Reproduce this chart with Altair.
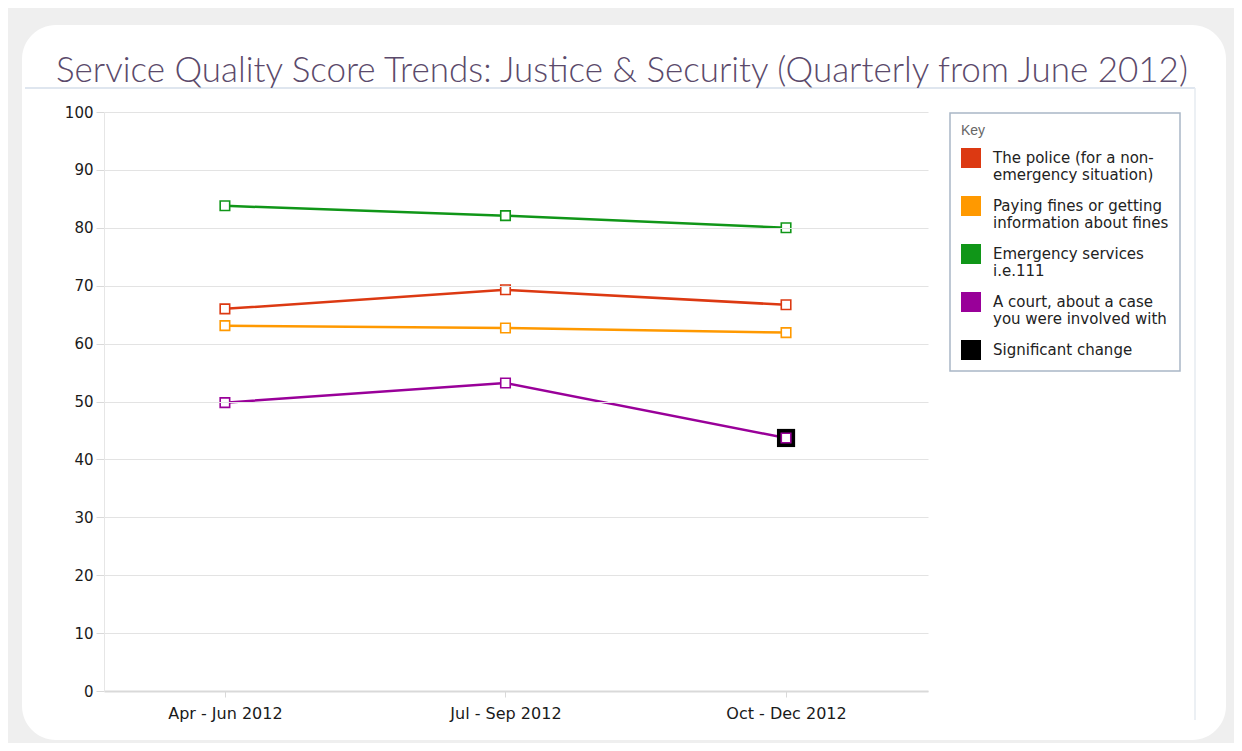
import altair as alt
import pandas as pd

title_text = "Service Quality Score Trends: Justice & Security (Quarterly from June 2012)"
quarters = ["Apr - Jun 2012", "Jul - Sep 2012", "Oct - Dec 2012"]
series = [
    "The police (for a non-|emergency situation)",
    "Paying fines or getting|information about fines",
    "Emergency services|i.e.111",
    "A court, about a case|you were involved with",
]
police = [66.0, 69.3, 66.7]
fines = [63.1, 62.7, 61.9]
emergency = [83.8, 82.1, 80.0]
court = [49.8, 53.2, 43.7]
sig_label = "Significant change"
sig_series = [series[3]]
sig_quarter = [2]
colors = ["#dc3912", "#ff9900", "#109618", "#990099", "#000000"]

rows = []
for s, vals in zip(series, [police, fines, emergency, court]):
    for i, v in enumerate(vals):
        rows.append({"series": s, "idx": i, "quarter": quarters[i], "score": v})
df = pd.DataFrame(rows)
sig_df = df[df.apply(lambda r: any(r["series"] == s and r["idx"] == q for s, q in zip(sig_series, sig_quarter)), axis=1)]

W, H = 824, 579
label_expr = "[" + ",".join("'" + q + "'" for q in quarters) + "][datum.value]"

x = alt.X("idx:Q", scale=alt.Scale(domain=[-0.431, 2.506], nice=False, zero=False),
          axis=alt.Axis(values=[0, 1, 2], labelExpr=label_expr, title=None, grid=False, zindex=1,
                        domainColor="#d9d9d9", domainWidth=2, tickColor="#d9d9d9", tickSize=6,
                        labelPadding=8, labelFontSize=16, labelColor="#1a1a1a", labelFont="DejaVu Sans"))
y = alt.Y("score:Q", scale=alt.Scale(domain=[0, 100], nice=False),
          axis=alt.Axis(values=list(range(0, 101, 10)), title=None, gridColor="#e3e3e3", gridWidth=1.2,
                        zindex=1, domainColor="#e6e6e6", tickColor="#d9d9d9", tickSize=8, labelPadding=3,
                        labelFontSize=15, labelColor="#1a1a1a", labelFont="DejaVu Sans"))

dom = series + [sig_label]
stroke_scale = alt.Scale(domain=dom, range=colors)

one = pd.DataFrame({"a": [0]})
panel = alt.Chart(one).mark_rect(fill="white", cornerRadius=34).encode(
    x=alt.value(-82), x2=alt.value(1122), y=alt.value(-87), y2=alt.value(628))
hrule = alt.Chart(one).mark_rule(color="#dfe6ef", strokeWidth=2).encode(
    x=alt.value(-79), x2=alt.value(1091), y=alt.value(-24))
vrule = alt.Chart(one).mark_rule(color="#e6ebf1", strokeWidth=1.5).encode(
    x=alt.value(1091), y=alt.value(-24), y2=alt.value(608))
title = alt.Chart(one).mark_text(align="left", baseline="alphabetic", font="Lato", fontSize=35,
                                 fontWeight=300, color="#5b4a6b").encode(
    x=alt.value(-48), y=alt.value(-30), text=alt.value(title_text))

base = alt.Chart(df)
legend_layer = base.mark_square(size=0, opacity=1).encode(
    x=x, y=y,
    fill=alt.Fill("series:N", scale=stroke_scale,
                  legend=alt.Legend(title="Key", orient="none", legendX=846, legendY=1,
                                    symbolType="square", symbolSize=400, symbolStrokeWidth=0,
                                    labelExpr="split(datum.label, '|')",
                                    labelFont="DejaVu Sans", labelFontSize=15, labelColor="#222222",
                                    labelLimit=300, labelOffset=12, labelBaseline="middle",
                                    titleFont="Liberation Sans", titleFontSize=14, titleFontWeight="normal",
                                    titleColor="#666666", titlePadding=10,
                                    rowPadding=13, padding=11, strokeColor="#a9b7c6",
                                    fillColor="white", cornerRadius=0)))
lines = base.mark_line(strokeWidth=2.5).encode(
    x=x, y=y, stroke=alt.Stroke("series:N", scale=stroke_scale, legend=None), detail="series:N")
sig = alt.Chart(sig_df).mark_square(size=330, color="black", opacity=1).encode(x=x, y=y)
pts = base.mark_square(size=90, filled=False, strokeWidth=1.6, fill="white", fillOpacity=1).encode(
    x=x, y=y, stroke=alt.Stroke("series:N", scale=stroke_scale, legend=None))

chart = alt.layer(panel, hrule, vrule, title, legend_layer, lines, sig, pts).properties(
    width=W, height=H,
    autosize=alt.AutoSizeParams(type="none"),
    padding={"left": 96, "top": 104, "right": 306, "bottom": 52},
    background="#efefef",
).configure_view(stroke=None).configure_legend(strokeWidth=1.5)

chart.save("out.html", embed_options={"renderer": "svg", "actions": False})
